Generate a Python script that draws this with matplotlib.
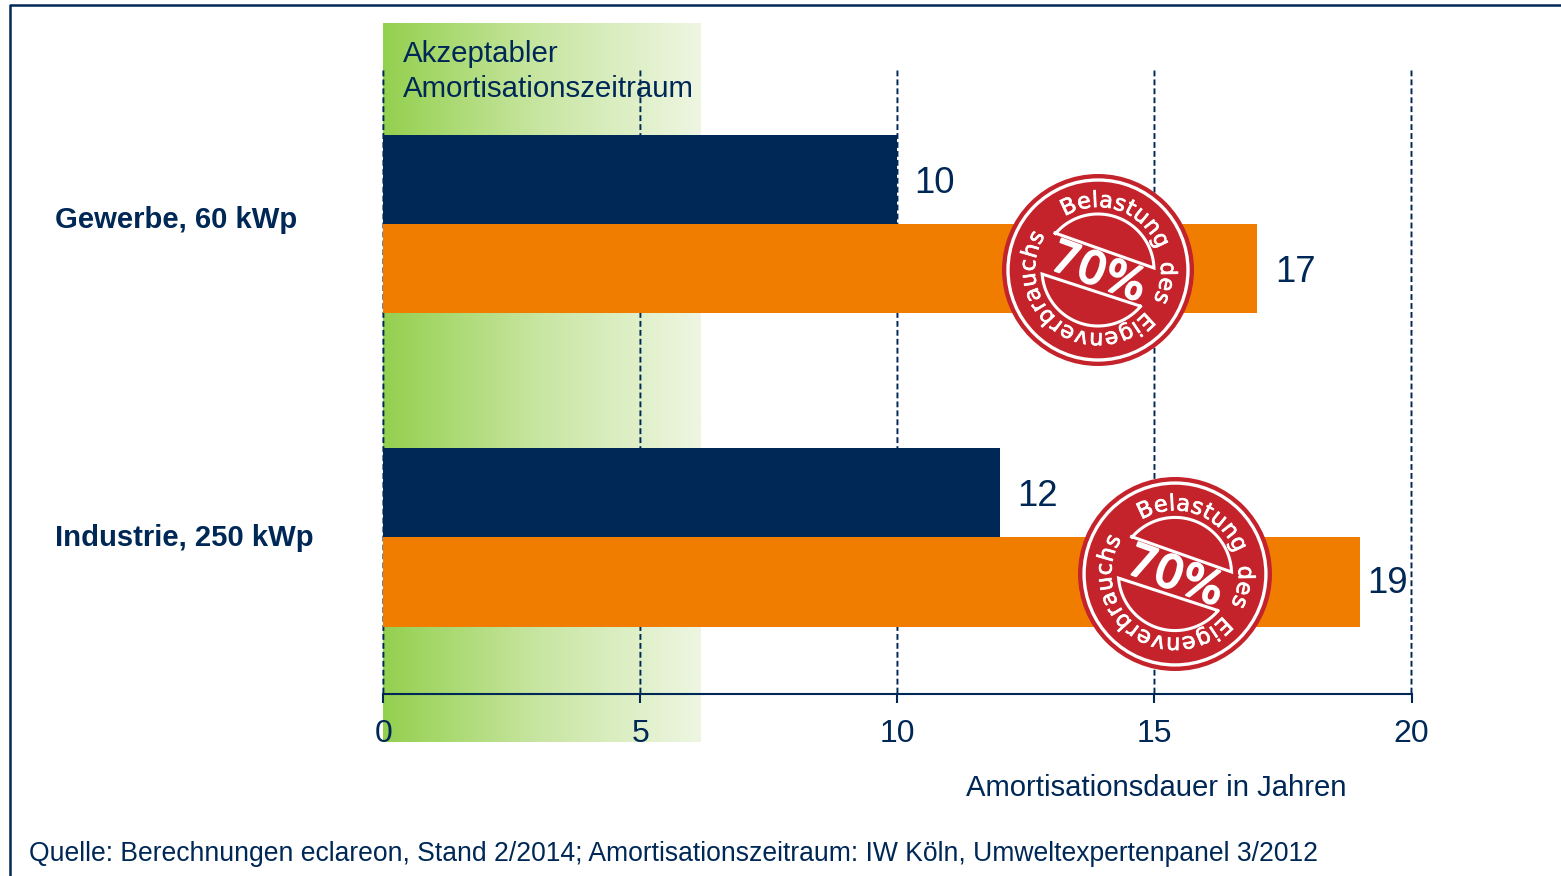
import numpy as np
import matplotlib
matplotlib.use("Agg")
import matplotlib.pyplot as plt
import matplotlib.patheffects as pe
from matplotlib.colors import LinearSegmentedColormap
from matplotlib.font_manager import FontProperties, findfont, get_font
from matplotlib.patches import Circle

plt.rcParams['font.family'] = ['Liberation Sans', 'DejaVu Sans']

# data
categories = ["Gewerbe, 60 kWp", "Industrie, 250 kWp"]
cat_pos = [1, 0]
navy_values = [10, 12]
orange_values = [17, 19]
label_gaps = [[17, 18], [17, 7]]  # px between bar end and number
x_ticks = [0, 5, 10, 15, 20]
accept_limit = 6.18
stamp_centers = [(1098, 270, 96), (1175, 574, 97)]
stamp_text = "Belastung des Eigenverbrauchs"

NAVY = "#002856"
ORANGE = "#F07D00"
RED = "#C4232B"

W, H = 1561, 876
fig = plt.figure(figsize=(W / 100, H / 100), dpi=100)

# axes placed so 0..20 sits on px 383.4..1411.5 and the axis line on y=693
ax = fig.add_axes([383.4 / W, 1 - 693.5 / H, 1028.1 / W, 626 / H])
ax.set_xlim(0, 20)
ax.set_ylim(-0.5, 1.5)
ax.patch.set_alpha(0)

# green gradient band
grad = np.linspace(0, 1, 256).reshape(1, -1)
cmap = LinearSegmentedColormap.from_list("g", ["#94D04F", "#C9E6A3", "#EEF6E2"])
ax.imshow(grad, cmap=cmap, aspect="auto", extent=[0, accept_limit, -0.655, 1.642],
          clip_on=False, zorder=0)
ax.set_xlim(0, 20)
ax.set_ylim(-0.5, 1.5)

for t in x_ticks:
    ax.axvline(t, color=NAVY, lw=1.4, dashes=(3, 1.6), zorder=1, clip_on=False, snap=False)

h = 89.5 / 313
ax.barh([p + h / 2 for p in cat_pos], navy_values, height=h, color=NAVY, zorder=2)
ax.barh([p - h / 2 for p in cat_pos], orange_values, height=h, color=ORANGE, zorder=2)

for i, p in enumerate(cat_pos):
    ax.annotate(str(navy_values[i]), (navy_values[i], p + h / 2), xytext=(label_gaps[i][0] * 0.72, 0),
                textcoords="offset points", va="center_baseline", fontsize=26.3, color=NAVY)
    ax.annotate(str(orange_values[i]), (orange_values[i], p - h / 2), xytext=(label_gaps[i][1] * 0.72, 0 if i == 0 else 1.5),
                textcoords="offset points", va="center_baseline", fontsize=26.3, color=NAVY)

for s in ["top", "left", "right"]:
    ax.spines[s].set_visible(False)
ax.spines["bottom"].set_color(NAVY)
ax.spines["bottom"].set_linewidth(1.5)
ax.set_yticks([])
ax.set_xticks(x_ticks)
ax.tick_params(axis="x", length=6.5, width=1.5, color=NAVY, direction="out", pad=12,
               labelsize=23, labelcolor=NAVY)

# overlay in pixel coordinates for frame, labels and stamps
ov = fig.add_axes([0, 0, 1, 1], zorder=5)
ov.set_xlim(0, W)
ov.set_ylim(H, 0)
ov.axis("off")

ov.plot([10, 10, W], [H, 5, 5], color=NAVY, lw=1.8, clip_on=False)

ov.text(55, 220, categories[0], fontsize=21.1, fontweight="bold", color=NAVY, va="center")
ov.text(55, 538, categories[1], fontsize=21.1, fontweight="bold", color=NAVY, va="center")
ov.text(403, 54, "Akzeptabler", fontsize=21.15, color=NAVY, va="center")
ov.text(403, 89, "Amortisationszeitraum", fontsize=21.15, color=NAVY, va="center")
ov.text(966, 788, "Amortisationsdauer in Jahren", fontsize=21.1, color=NAVY, va="center")
ov.text(29, 854, "Quelle: Berechnungen eclareon, Stand 2/2014; Amortisationszeitraum: IW Köln, Umweltexpertenpanel 3/2012",
        fontsize=19.09, color=NAVY, va="center")


def draw_stamp(cx, cy, r):
    k = r / 96
    ov.add_patch(Circle((cx, cy), r, fc=RED, ec="none", zorder=1))
    ov.add_patch(Circle((cx, cy), 90 * k, fc="none", ec="white", lw=2.4, zorder=2))
    # ring text, one char at a time, spaced by its advance width
    fp = FontProperties(family="DejaVu Sans", size=16 * k)
    ft = get_font(findfont(fp))
    ft.set_size(fp.get_size_in_points(), 100)
    widths = []
    for c in stamp_text:
        extra = 6 if c == " " else 0.5
        widths.append(ft.load_char(ord(c)).linearHoriAdvance / 65536 + extra)
    widths = np.array(widths)
    total = widths.sum() - widths[0] / 2 - widths[-1] / 2
    pos = -widths[0] / 2
    start, span = -25, 323
    for c, w in zip(stamp_text, widths):
        ang = start + span * (pos + w / 2) / total
        pos += w
        if c == " ":
            continue
        a = np.radians(ang)
        ov.text(cx + 63 * k * np.sin(a), cy - 63 * k * np.cos(a), c, fontproperties=fp, color="white",
                rotation=-ang, rotation_mode="anchor", ha="center", va="baseline", zorder=3,
                path_effects=[pe.withStroke(linewidth=0.5, foreground="white")])
    # the two cut circle segments
    for (x0, y0), (x1, y1) in [((-43, -37), (56, -2)), ((42, 36), (-55, 4))]:
        a0 = np.arctan2(y0, x0)
        a1 = np.arctan2(y1, x1)
        if a1 < a0:
            a1 += 2 * np.pi
        th = np.linspace(a0, a1, 60)
        rr = 56 * k
        xs = np.r_[cx + rr * np.cos(th), cx + x0 * k]
        ys = np.r_[cy + rr * np.sin(th), cy + y0 * k]
        ov.plot(xs, ys, color="white", lw=2.2, zorder=3, solid_joinstyle="miter")
    ov.text(cx, cy + 3 * k, "70%", family="DejaVu Sans", fontsize=32 * k, color="white",
            rotation=-20, rotation_mode="anchor", ha="center", va="center", zorder=4,
            path_effects=[pe.withStroke(linewidth=1.6, foreground="white")])


for cx, cy, r in stamp_centers:
    draw_stamp(cx, cy, r)

fig.savefig("out.png", dpi=100)
